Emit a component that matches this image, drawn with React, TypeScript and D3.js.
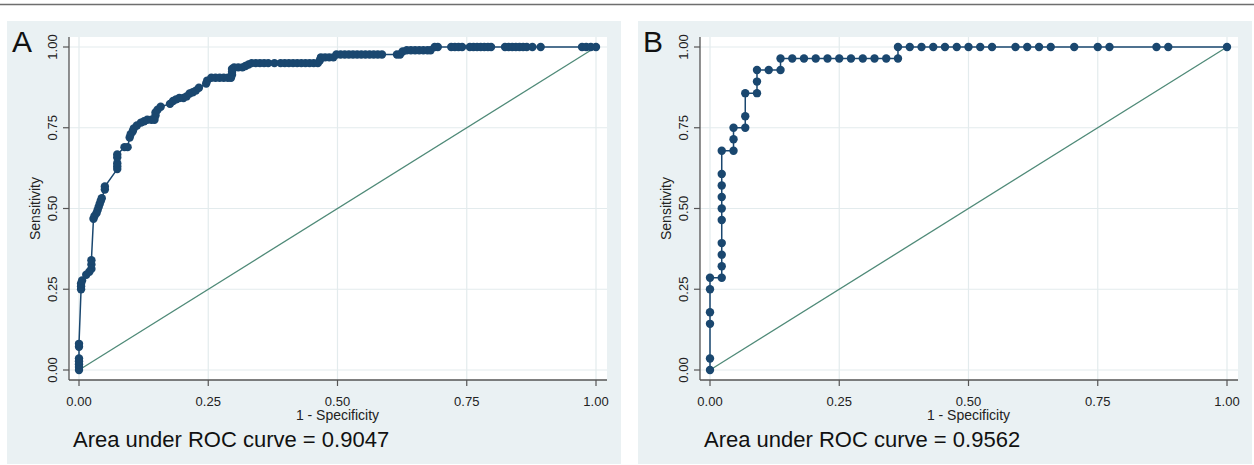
import React from 'react'
import * as d3 from 'd3'

// ROC points: [1 - specificity, sensitivity]
const rocA: [number, number][] = [
  [0, 0], [0, 0.009], [0, 0.018], [0, 0.027], [0, 0.036], [0, 0.072], [0, 0.081],
  [0.004, 0.25], [0.004, 0.259], [0.004, 0.268], [0.006, 0.277],
  [0.014, 0.295], [0.02, 0.304], [0.024, 0.313], [0.024, 0.327], [0.024, 0.34],
  [0.028, 0.468], [0.03, 0.477], [0.034, 0.486], [0.036, 0.495], [0.038, 0.505],
  [0.04, 0.514], [0.042, 0.523], [0.044, 0.532],
  [0.05, 0.559], [0.05, 0.568],
  [0.074, 0.622], [0.074, 0.631], [0.074, 0.64], [0.074, 0.658], [0.074, 0.667],
  [0.088, 0.69], [0.094, 0.69],
  [0.098, 0.72], [0.1, 0.73], [0.104, 0.739], [0.106, 0.748], [0.112, 0.757],
  [0.12, 0.766], [0.126, 0.77], [0.132, 0.775], [0.14, 0.775], [0.146, 0.775],
  [0.148, 0.788], [0.148, 0.797], [0.152, 0.806], [0.158, 0.815],
  [0.176, 0.824], [0.182, 0.833], [0.188, 0.838], [0.194, 0.842], [0.202, 0.842],
  [0.208, 0.847], [0.214, 0.856], [0.22, 0.86], [0.226, 0.865], [0.232, 0.874],
  [0.246, 0.887], [0.248, 0.896],
  [0.256, 0.905], [0.264, 0.905], [0.272, 0.905], [0.28, 0.905], [0.288, 0.905],
  [0.294, 0.905], [0.296, 0.914], [0.296, 0.923], [0.296, 0.932], [0.3, 0.937],
  [0.308, 0.937], [0.316, 0.937], [0.322, 0.941], [0.328, 0.946], [0.334, 0.95],
  [0.342, 0.95], [0.35, 0.95], [0.358, 0.95], [0.366, 0.95], [0.378, 0.95],
  [0.39, 0.95], [0.398, 0.95], [0.406, 0.95], [0.414, 0.95], [0.422, 0.95],
  [0.43, 0.95], [0.438, 0.95], [0.446, 0.95], [0.454, 0.95], [0.462, 0.95],
  [0.466, 0.959], [0.468, 0.968], [0.476, 0.968], [0.484, 0.968], [0.492, 0.968],
  [0.498, 0.977], [0.506, 0.977], [0.514, 0.977], [0.522, 0.977], [0.53, 0.977],
  [0.538, 0.977], [0.546, 0.977], [0.554, 0.977], [0.562, 0.977], [0.57, 0.977],
  [0.578, 0.977], [0.586, 0.977],
  [0.615, 0.977], [0.621, 0.977], [0.626, 0.986], [0.634, 0.99], [0.642, 0.99],
  [0.65, 0.99], [0.658, 0.99], [0.666, 0.99], [0.674, 0.99], [0.68, 0.99],
  [0.688, 1], [0.694, 1],
  [0.72, 1], [0.727, 1], [0.734, 1], [0.741, 1],
  [0.756, 1], [0.763, 1], [0.77, 1], [0.777, 1], [0.784, 1], [0.791, 1], [0.797, 1],
  [0.824, 1], [0.831, 1], [0.838, 1], [0.845, 1], [0.852, 1], [0.859, 1], [0.866, 1],
  [0.877, 1], [0.893, 1],
  [0.973, 1], [0.981, 1], [0.99, 1], [1, 1],
]

const rocB: [number, number][] = [
  [0, 0], [0, 0.0357], [0, 0.1429], [0, 0.1786], [0, 0.25], [0, 0.2857],
  [0.0227, 0.2857], [0.0227, 0.3214], [0.0227, 0.3571], [0.0227, 0.3929],
  [0.0227, 0.4643], [0.0227, 0.5], [0.0227, 0.5357], [0.0227, 0.5714],
  [0.0227, 0.6071], [0.0227, 0.6786],
  [0.0455, 0.6786], [0.0455, 0.7143], [0.0455, 0.75],
  [0.0682, 0.75], [0.0682, 0.7857], [0.0682, 0.8571],
  [0.0909, 0.8571], [0.0909, 0.8929], [0.0909, 0.9286],
  [0.1136, 0.9286],
  [0.1364, 0.9286], [0.1364, 0.9643],
  [0.1591, 0.9643], [0.1818, 0.9643], [0.2045, 0.9643], [0.2273, 0.9643],
  [0.25, 0.9643], [0.2727, 0.9643], [0.2955, 0.9643], [0.3182, 0.9643],
  [0.3409, 0.9643], [0.3636, 0.9643],
  [0.3636, 1], [0.3864, 1], [0.4091, 1], [0.4318, 1], [0.4545, 1], [0.4773, 1],
  [0.5, 1], [0.5227, 1], [0.5455, 1],
  [0.5909, 1], [0.6136, 1], [0.6364, 1], [0.6591, 1],
  [0.7045, 1], [0.75, 1], [0.7727, 1], [0.8636, 1], [0.8864, 1], [1, 1],
]

const ticks = [0, 0.25, 0.5, 0.75, 1]
const letters = ['A', 'B']
const aucValues = ['0.9047', '0.9562']
const xTitle = '1 - Specificity'
const yTitle = 'Sensitivity'

const FONT = '"Liberation Sans", Arial, sans-serif'
const NAVY = '#1a476f'

function Panel({ data, letter, auc, dx }: { data: [number, number][], letter: string, auc: string, dx: number }) {
  const axisX = 69 + dx
  const axisY = 380
  const plotRight = 607 + dx
  const x = d3.scaleLinear().domain([0, 1]).range([79 + dx, 596 + dx])
  const y = d3.scaleLinear().domain([0, 1]).range([370, 47])
  const line = d3.line<[number, number]>().x(d => x(d[0])).y(d => y(d[1]))
  const fmt = d3.format('.2f')

  return (
    <g>
      <rect x={7 + dx} y={21} width={614} height={443} fill="#eaf1f3" />
      <rect x={axisX} y={37} width={plotRight - axisX} height={axisY - 37} fill="#ffffff" />
      {ticks.map(t => (
        <g key={'g' + t}>
          <line x1={x(t)} x2={x(t)} y1={37} y2={axisY} stroke="#e3ebed" strokeWidth={1.2} />
          <line x1={axisX} x2={plotRight} y1={y(t)} y2={y(t)} stroke="#e3ebed" strokeWidth={1.2} />
        </g>
      ))}
      <line x1={x(0)} y1={y(0)} x2={x(1)} y2={y(1)} stroke="#4f8a78" strokeWidth={1.3} />
      <path d={line(data) || ''} fill="none" stroke={NAVY} strokeWidth={1.5} />
      {data.map((d, i) => (
        <circle key={i} cx={x(d[0])} cy={y(d[1])} r={4.2} fill={NAVY} />
      ))}
      <line x1={axisX} x2={axisX} y1={37} y2={axisY} stroke="#555" strokeWidth={1.3} />
      <line x1={axisX} x2={plotRight} y1={axisY} y2={axisY} stroke="#555" strokeWidth={1.3} />
      {ticks.map(t => (
        <g key={'t' + t}>
          <line x1={axisX - 6} x2={axisX} y1={y(t)} y2={y(t)} stroke="#555" strokeWidth={1.2} />
          <text transform={`translate(${axisX - 12},${y(t)}) rotate(-90)`} textAnchor="middle"
            fontFamily={FONT} fontSize={13} fill="#222">{fmt(t)}</text>
          <line x1={x(t)} x2={x(t)} y1={axisY} y2={axisY + 6} stroke="#555" strokeWidth={1.2} />
          <text x={x(t)} y={406} textAnchor="middle" fontFamily={FONT} fontSize={13} fill="#222">{fmt(t)}</text>
        </g>
      ))}
      <text transform={`translate(${axisX - 29.5},${(y(0) + y(1)) / 2}) rotate(-90)`} textAnchor="middle"
        fontFamily={FONT} fontSize={14} fill="#222">{yTitle}</text>
      <text x={(x(0) + x(1)) / 2} y={420} textAnchor="middle" fontFamily={FONT} fontSize={14} fill="#222">{xTitle}</text>
      <text x={axisX + 4} y={447} fontFamily={FONT} fontSize={22} fill="#111">{`Area under ROC curve = ${auc}`}</text>
      <text x={12 + dx} y={52} fontFamily={FONT} fontSize={30} fill="#111">{letter}</text>
    </g>
  )
}

export default function App() {
  return (
    <svg width={1254} height={465} style={{ position: 'absolute', left: 0, top: 0, background: '#fff' }}>
      <line x1={0} x2={1254} y1={4.5} y2={4.5} stroke="#6e6e6e" strokeWidth={1.5} />
      <Panel data={rocA} letter={letters[0]} auc={aucValues[0]} dx={0} />
      <Panel data={rocB} letter={letters[1]} auc={aucValues[1]} dx={631} />
    </svg>
  )
}
